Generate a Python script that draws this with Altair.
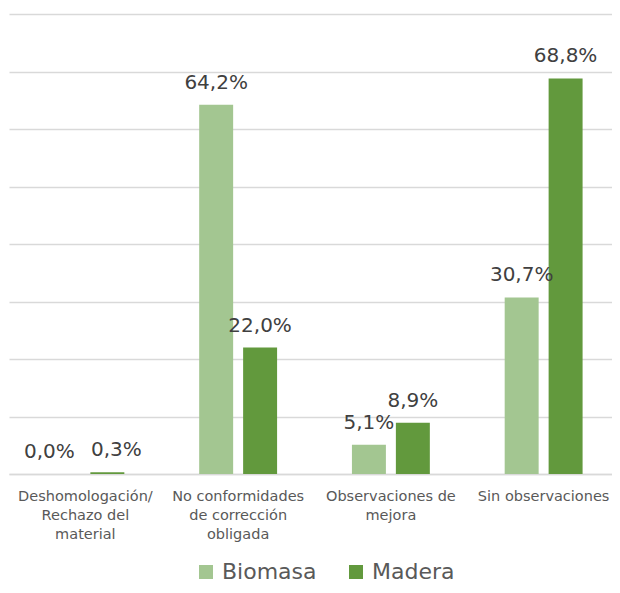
import altair as alt
import pandas as pd

categories = [
    "Deshomologación/|Rechazo del|material",
    "No conformidades|de corrección|obligada",
    "Observaciones de|mejora",
    "Sin observaciones",
]
series = ["Biomasa", "Madera"]
biomasa = [0.0, 64.2, 5.1, 30.7]
madera = [0.3, 22.0, 8.9, 68.8]
colors = ["#A3C691", "#62993D"]
# horizontal nudges of the value labels (the reference moves the two labels
# of the first group apart so that they do not overlap)
label_dx_biomasa = [-14, 0, 0, 0]
label_dx_madera = [9, 0, 0, 0]

rows = []
for cat, b, m, db, dm in zip(categories, biomasa, madera, label_dx_biomasa, label_dx_madera):
    rows.append({"cat": cat, "serie": "Biomasa", "v": b, "dx": db})
    rows.append({"cat": cat, "serie": "Madera", "v": m, "dx": dm})
df = pd.DataFrame(rows)
df["lab"] = df["v"].map(lambda x: f"{x:.1f}%".replace(".", ","))

FONT = "DejaVu Sans"

x_enc = alt.X(
    "cat:N",
    sort=categories,
    title=None,
    scale=alt.Scale(paddingInner=0.49, paddingOuter=0.2188, align=0.56),
    axis=alt.Axis(
        labelExpr="split(datum.label, '|')",
        labelAngle=0,
        labelFont=FONT,
        labelFontSize=14.5,
        labelLineHeight=19,
        labelColor="#595959",
        labelPadding=15,
        labelAlign="center",
        labelBaseline="top",
        ticks=False,
        domain=True,
        domainColor="#D9D9D9",
        domainWidth=1.5,
        grid=False,
        labelLimit=300,
    ),
)
xo_enc = alt.XOffset(
    "serie:N",
    sort=series,
    scale=alt.Scale(paddingInner=0.227, paddingOuter=0),
)
y_enc = alt.Y(
    "v:Q",
    title=None,
    scale=alt.Scale(domain=[0, 80], nice=False),
    axis=alt.Axis(
        values=[0, 10, 20, 30, 40, 50, 60, 70, 80],
        labels=False,
        ticks=False,
        domain=False,
        grid=True,
        gridColor="#D9D9D9",
        gridWidth=1.5,
    ),
)

bars = alt.Chart(df).mark_bar().encode(
    x=x_enc,
    xOffset=xo_enc,
    y=y_enc,
    color=alt.Color(
        "serie:N",
        sort=series,
        scale=alt.Scale(domain=series, range=colors),
        legend=alt.Legend(
            title=None,
            orient="none",
            direction="horizontal",
            legendX=186,
            legendY=547,
            symbolType="square",
            symbolSize=196,
            symbolStrokeWidth=0,
            labelFont=FONT,
            labelFontSize=22,
            labelColor="#595959",
            labelOffset=5,
            columnPadding=28,
            padding=0,
        ),
    ),
)

# value labels; the horizontal nudges are applied through one text layer per nudge value
text_layers = []
for d in sorted(df["dx"].unique()):
    sub = df[df["dx"] == d]
    text_layers.append(
        alt.Chart(sub).mark_text(
            font=FONT, fontSize=20, color="#404040", baseline="alphabetic",
            dy=-16, dx=int(d)
        ).encode(
            x=alt.X("cat:N", sort=categories),
            xOffset=alt.XOffset("serie:N", sort=series),
            y=alt.Y("v:Q"),
            text="lab:N",
        )
    )

chart = (
    alt.layer(bars, *text_layers)
    .properties(
        width=603,
        height=460,
        autosize=alt.AutoSizeParams(type="none"),
        padding={"left": 1, "top": 6, "right": 0, "bottom": 111},
    )
    .configure_view(stroke=None)
)

chart.save("out.html", embed_options={"renderer": "svg", "actions": False})
